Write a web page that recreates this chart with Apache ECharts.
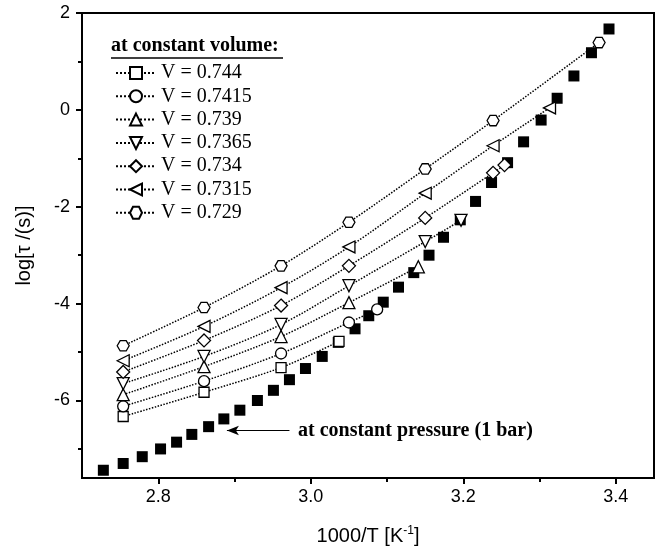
<!DOCTYPE html>
<html>
<head>
<meta charset="utf-8">
<script src="https://cdn.jsdelivr.net/npm/echarts@6/dist/echarts.min.js"></script>
<style>
html,body{margin:0;padding:0;background:#fff;}
#chart{width:663px;height:552px;}
</style>
</head>
<body>
<div id="chart"></div>
<script>
// ---- data ----
const xTickLabels = [2.8, 3.0, 3.2, 3.4];
const xMinorTicks = [2.9, 3.1, 3.3];
const yTickLabels = [-6, -4, -2, 0, 2];
const yMinorTicks = [-7, -5, -3, -1, 1];

// constant pressure (1 bar), filled squares
const pressX = [2.728, 2.754, 2.779, 2.803, 2.824, 2.844, 2.866, 2.886, 2.907, 2.930,
                2.951, 2.972, 2.993, 3.015, 3.036, 3.058, 3.076, 3.095, 3.115, 3.135,
                3.155, 3.174, 3.196, 3.216, 3.237, 3.258, 3.279, 3.302, 3.323, 3.345,
                3.368, 3.391];
const pressY = [-7.44, -7.30, -7.16, -7.00, -6.86, -6.70, -6.54, -6.38, -6.20, -6.00,
                -5.79, -5.57, -5.34, -5.09, -4.80, -4.52, -4.25, -3.97, -3.66, -3.36,
                -3.00, -2.63, -2.27, -1.89, -1.50, -1.09, -0.66, -0.21, 0.24, 0.70,
                1.18, 1.67];

// constant volume series
const names = ['V = 0.744', 'V = 0.7415', 'V = 0.739', 'V = 0.7365', 'V = 0.734', 'V = 0.7315', 'V = 0.729'];
const x744  = [2.754, 2.860, 2.961, 3.037];
const y744  = [-6.33, -5.83, -5.32, -4.78];
const x7415 = [2.754, 2.860, 2.961, 3.050, 3.087];
const y7415 = [-6.12, -5.60, -5.03, -4.39, -4.12];
const x739  = [2.754, 2.860, 2.961, 3.050, 3.141];
const y739  = [-5.88, -5.30, -4.68, -3.98, -3.24];
const x7365 = [2.754, 2.860, 2.961, 3.050, 3.150, 3.197];
const y7365 = [-5.65, -5.09, -4.43, -3.63, -2.72, -2.28];
const x734  = [2.754, 2.860, 2.961, 3.050, 3.150, 3.239, 3.254];
const y734  = [-5.41, -4.76, -4.04, -3.22, -2.23, -1.30, -1.14];
const x7315 = [2.754, 2.860, 2.961, 3.050, 3.150, 3.239, 3.313];
const y7315 = [-5.18, -4.47, -3.67, -2.83, -1.72, -0.74, 0.04];
const x729  = [2.754, 2.860, 2.961, 3.050, 3.150, 3.239, 3.378];
const y729  = [-4.87, -4.08, -3.22, -2.32, -1.22, -0.22, 1.39];

// arrow annotation (data coords)
const arrowFrom = [2.972, -6.62];
const arrowTo   = [2.890, -6.62];

// ---- build ----
const zip = (xs, ys) => xs.map((x, i) => [x, ys[i]]);
const symbols = {
  square:  'rect',
  circle:  'circle',
  up:      'path://M0,-1 L1,1 L-1,1 Z',
  down:    'path://M-1,-1 L1,-1 L0,1 Z',
  diamond: 'path://M0,-1 L1,0 L0,1 L-1,0 Z',
  left:    'path://M-1,0 L1,-1 L1,1 Z',
  hexagon: 'path://M-1,0 L-0.5,-0.866 L0.5,-0.866 L1,0 L0.5,0.866 L-0.5,0.866 Z'
};
const volSets = [
  [x744, y744, symbols.square, 10],
  [x7415, y7415, symbols.circle, 11],
  [x739, y739, symbols.up, 12],
  [x7365, y7365, symbols.down, 12],
  [x734, y734, symbols.diamond, 13],
  [x7315, y7315, symbols.left, 12],
  [x729, y729, symbols.hexagon, 12]
];

const series = [{
  name: 'pressure',
  type: 'scatter',
  data: zip(pressX, pressY),
  symbol: 'rect',
  symbolSize: 11,
  itemStyle: { color: '#000', opacity: 1 },
  z: 2,
  markLine: {
    silent: true,
    symbol: ['none', 'arrow'],
    symbolSize: [7, 12],
    lineStyle: { color: '#000', width: 1.2, type: 'solid' },
    label: { show: false },
    data: [[{ coord: arrowFrom }, { coord: arrowTo }]]
  }
}];
volSets.forEach((s, i) => {
  series.push({
    name: names[i],
    type: 'line',
    data: zip(s[0], s[1]),
    smooth: 0.3,
    symbol: s[2],
    symbolSize: s[3],
    symbolKeepAspect: true,
    showAllSymbol: true,
    lineStyle: { color: '#000', width: 1.5, type: 'dotted' },
    itemStyle: { color: '#fff', borderColor: '#000', borderWidth: 1.3, opacity: 1 },
    z: 3
  });
});

const chart = echarts.init(document.getElementById('chart'));
const axisFont = { fontFamily: 'Liberation Sans, Arial, sans-serif', fontSize: 18, color: '#000' };
chart.setOption({
  animation: false,
  backgroundColor: '#fff',
  grid: { left: 82, right: 9, top: 13, bottom: 74, show: true, borderColor: '#000', borderWidth: 2, backgroundColor: 'transparent' },
  xAxis: [{
    type: 'value', min: 2.7, max: 3.45,
    splitLine: { show: false },
    axisLine: { onZero: false, lineStyle: { color: '#000', width: 2 } },
    axisTick: { customValues: xTickLabels, length: 6, lineStyle: { color: '#000', width: 2 } },
    axisLabel: { customValues: xTickLabels, margin: 10, formatter: v => v.toFixed(1), ...axisFont },
    name: '1000/T [K{sup|-1}]',
    nameLocation: 'middle',
    nameGap: 47,
    nameTextStyle: {
      fontFamily: 'Liberation Sans, Arial, sans-serif', fontSize: 20, color: '#000',
      rich: { sup: { fontFamily: 'Liberation Sans, Arial, sans-serif', fontSize: 12, color: '#000', verticalAlign: 'top', padding: [0, 0, 10, 0] } }
    }
  }, {
    type: 'value', min: 2.7, max: 3.45, position: 'bottom',
    splitLine: { show: false },
    axisLine: { show: false, onZero: false },
    axisTick: { customValues: xMinorTicks, length: 4, lineStyle: { color: '#000', width: 2 } },
    axisLabel: { show: false }
  }],
  yAxis: [{
    type: 'value', min: -7.6, max: 2,
    splitLine: { show: false },
    axisLine: { onZero: false, lineStyle: { color: '#000', width: 2 } },
    axisTick: { customValues: yTickLabels, length: 6, lineStyle: { color: '#000', width: 2 } },
    axisLabel: { customValues: yTickLabels, margin: 12, ...axisFont },
    name: 'log[τ /(s)]',
    nameLocation: 'middle',
    nameGap: 48,
    nameRotate: 90,
    nameTextStyle: { fontFamily: 'Liberation Sans, Arial, sans-serif', fontSize: 20, color: '#000' }
  }, {
    type: 'value', min: -7.6, max: 2, position: 'left',
    splitLine: { show: false },
    axisLine: { show: false, onZero: false },
    axisTick: { customValues: yMinorTicks, length: 4, lineStyle: { color: '#000', width: 2 } },
    axisLabel: { show: false }
  }],
  legend: {
    data: names,
    orient: 'vertical',
    left: 110,
    top: 58,
    itemWidth: 40,
    itemHeight: 15,
    itemGap: 3.3,
    selectedMode: false,
    textStyle: { fontFamily: 'Liberation Serif, Times New Roman, serif', fontSize: 20, color: '#000', lineHeight: 20 }
  },
  graphic: [
    { type: 'text', left: 111, top: 36, style: { text: 'at constant volume:', font: 'bold 20px "Liberation Serif", serif', fill: '#000' } },
    { type: 'line', shape: { x1: 111, y1: 58, x2: 283, y2: 58 }, style: { stroke: '#000', lineWidth: 1.5 } },
    { type: 'text', left: 298, top: 421, style: { text: 'at constant pressure (1 bar)', font: 'bold 20px "Liberation Serif", serif', fill: '#000' } }
  ],
  series: series
});
</script>
</body>
</html>
